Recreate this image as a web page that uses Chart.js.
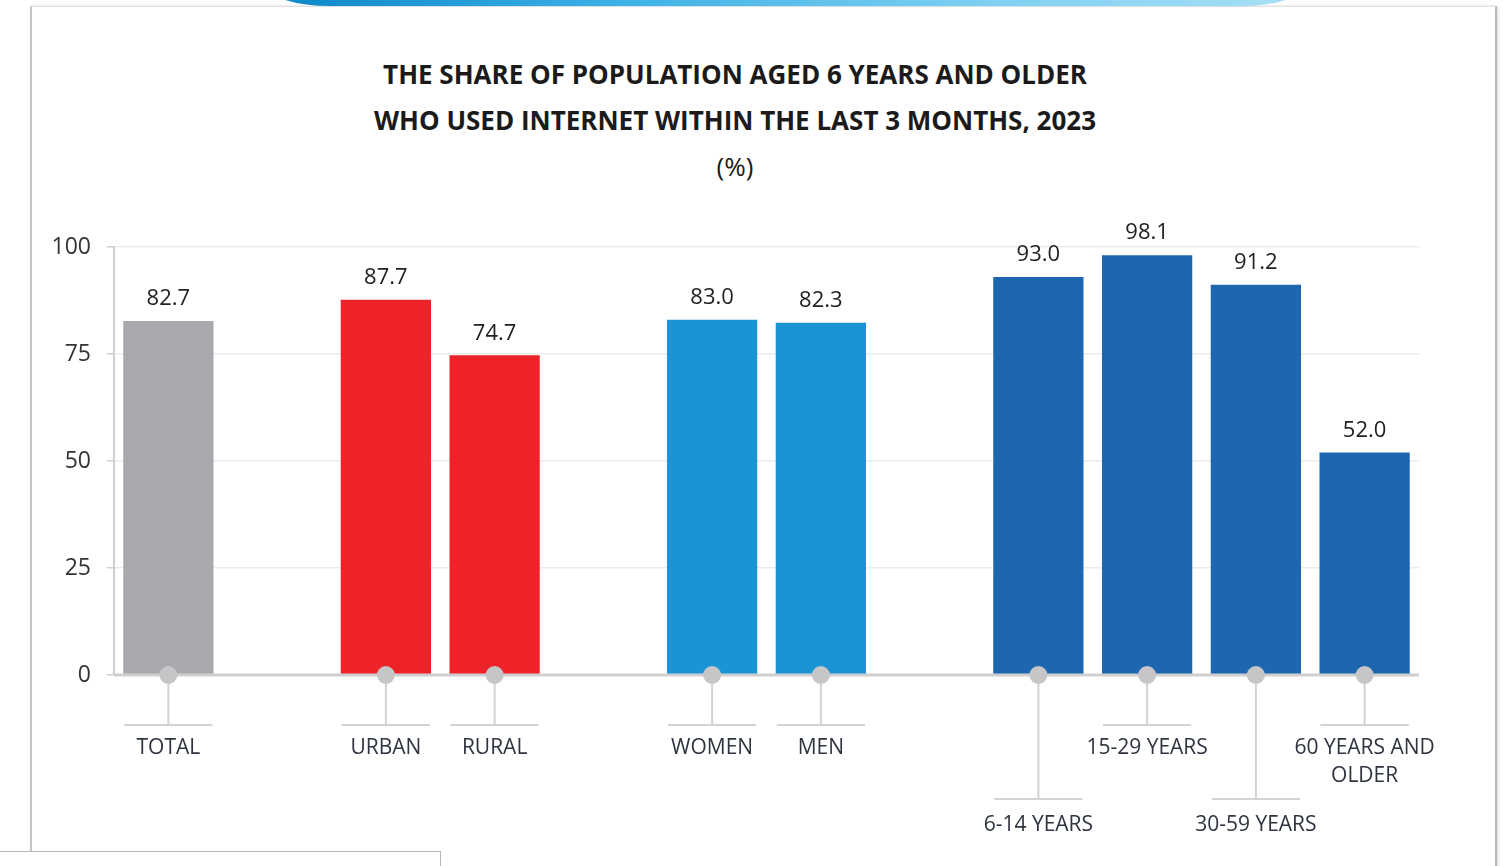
<!DOCTYPE html>
<html>
<head>
<meta charset="utf-8">
<script src="https://cdn.jsdelivr.net/npm/chart.js@4"></script>
<style>
  html, body { margin: 0; padding: 0; background: #fff; }
  body { width: 1503px; height: 866px; position: relative; overflow: hidden; font-family: "Open Sans", sans-serif; }
  .swoosh { position: absolute; left: 268px; top: -14px; width: 1035px; height: 20px;
    border-radius: 0 0 6% 6% / 0 0 100% 100%;
    background: linear-gradient(90deg, #0a86c8, #3fb2e6 35%, #7fd0f2 70%, #a7e0f6); }
  .frame { position: absolute; left: 30px; top: 6px; width: 1463px; height: 880px; border-left: 2px solid #c4c4c4;
    border-right: 2px solid #b8b8b8; border-top: 1px solid #e0e0e0; box-shadow: 1px 0 3px rgba(0,0,0,0.15); }
  .box { position: absolute; left: -2px; top: 851px; width: 441px; height: 30px; border: 1px solid #b5b5b5; background: #fff; }
  .title { position: absolute; left: 335px; width: 800px; text-align: center; font-family: "Open Sans", sans-serif;
    font-weight: 700; font-size: 26px; color: #1b1b1b; }
  canvas { position: absolute; left: 0; top: 0; }
</style>
</head>
<body>
<div class="frame"></div>
<div class="swoosh"></div>
<div class="title" style="top: 56px;">THE SHARE OF POPULATION AGED 6 YEARS AND OLDER</div>
<div class="title" style="top: 102px;">WHO USED INTERNET WITHIN THE LAST 3 MONTHS, 2023</div>
<div class="title" style="top: 148px; font-weight: 400;">(%)</div>
<canvas id="chart" width="1503" height="866"></canvas>
<div class="box"></div>
<script>
  // empty strings / nulls are the spacer slots between the groups
  const categories = ['TOTAL', '', 'URBAN', 'RURAL', '', 'WOMEN', 'MEN', '', '6-14 YEARS', '15-29 YEARS', '30-59 YEARS', '60 YEARS AND|OLDER'];
  const shares = [82.7, null, 87.7, 74.7, null, 83.0, 82.3, null, 93.0, 98.1, 91.2, 52.0];
  const barColors = ['#a9a8ad', null, '#ee2229', '#ee2229', null, '#1a94d4', '#1a94d4', null, '#1e67b0', '#1e67b0', '#1e67b0', '#1e67b0'];
  const labelDrop = ['short', null, 'short', 'short', null, 'short', 'short', null, 'long', 'short', 'long', 'short'];
  const yTicks = [0, 25, 50, 75, 100];

  const annotate = {
    id: 'annotate',
    afterDatasetsDraw(chart) {
      const ctx = chart.ctx;
      const x = chart.scales.x;
      const y = chart.scales.y;
      const base = y.getPixelForValue(0);
      const meta = chart.getDatasetMeta(0);

      ctx.save();
      // baseline
      ctx.strokeStyle = '#cfcfd2';
      ctx.lineWidth = 3;
      ctx.beginPath();
      ctx.moveTo(chart.chartArea.left, base);
      ctx.lineTo(chart.chartArea.right, base);
      ctx.stroke();

      categories.forEach((cat, i) => {
        if (shares[i] === null) return;
        const cx = x.getPixelForValue(i);
        const bar = meta.data[i];
        const half = bar.width / 2;

        // value above bar
        ctx.fillStyle = '#222';
        ctx.font = '22px "Open Sans", sans-serif';
        ctx.textAlign = 'center';
        ctx.textBaseline = 'bottom';
        ctx.fillText(shares[i].toFixed(1), cx, y.getPixelForValue(shares[i]) - 11);

        // leader line
        const long = labelDrop[i] === 'long';
        const drop = long ? 124 : 50;
        ctx.strokeStyle = '#d3d3d5';
        ctx.lineWidth = 2;
        ctx.beginPath();
        ctx.moveTo(cx, base);
        ctx.lineTo(cx, base + drop);
        ctx.moveTo(cx - half + 1, base + drop);
        ctx.lineTo(cx + half - 1, base + drop);
        ctx.stroke();

        // dot
        ctx.fillStyle = '#c6c6c9';
        ctx.beginPath();
        ctx.arc(cx, base, 9, 0, Math.PI * 2);
        ctx.fill();

        // category label
        ctx.fillStyle = '#2e3440';
        ctx.font = '21px "Open Sans", sans-serif';
        ctx.textBaseline = 'middle';
        cat.split('|').forEach((line, k) => {
          ctx.fillText(line, cx, base + drop + (long ? 26 : 23) + k * 28);
        });
      });
      ctx.restore();
    }
  };

  new Chart(document.getElementById('chart'), {
    type: 'bar',
    data: {
      labels: categories,
      datasets: [{
        data: shares,
        backgroundColor: barColors,
        barPercentage: 0.83,
        categoryPercentage: 1.0
      }]
    },
    options: {
      responsive: false,
      animation: false,
      layout: {
        padding: { left: 41, right: 84, top: 247, bottom: 183 }
      },
      plugins: {
        legend: { display: false },
        tooltip: { enabled: false }
      },
      scales: {
        x: {
          ticks: { display: false },
          grid: { display: false },
          border: { display: false }
        },
        y: {
          min: 0,
          max: 100,
          afterBuildTicks(axis) {
            axis.ticks = yTicks.map(v => ({ value: v }));
          },
          afterFit(axis) {
            axis.width = 73;
          },
          ticks: {
            color: '#333',
            padding: 16,
            font: { family: '"Open Sans", sans-serif', size: 23 }
          },
          grid: {
            color: '#ececec',
            lineWidth: 1.5,
            tickLength: 7,
            tickColor: '#cfcfd2'
          },
          border: { display: true, color: '#cfcfd2', width: 2 }
        }
      }
    },
    plugins: [annotate]
  });
</script>
</body>
</html>
